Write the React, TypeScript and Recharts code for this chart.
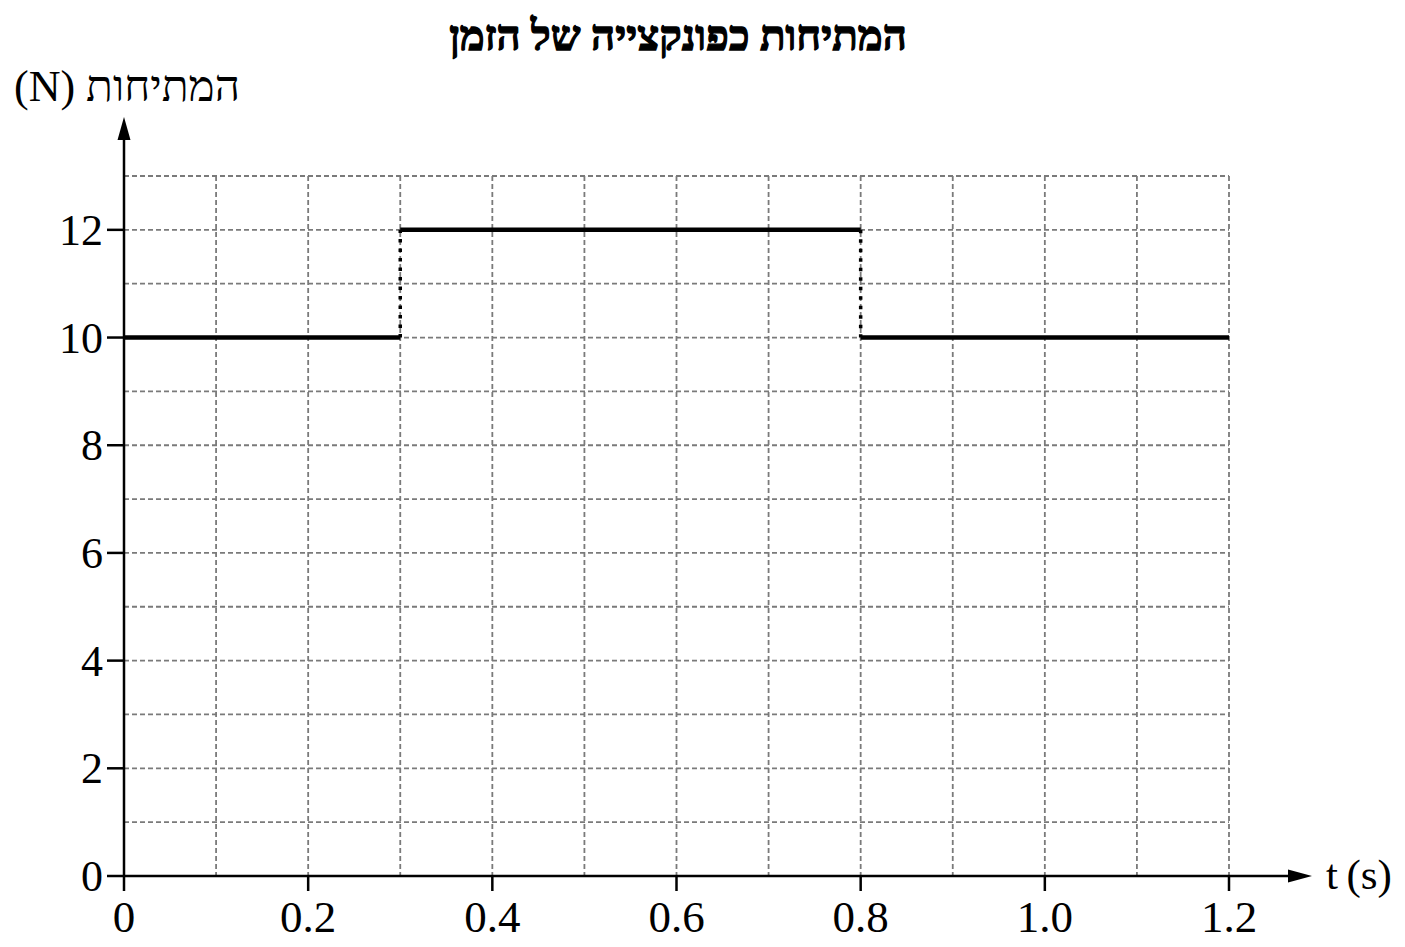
import React from "react";
import { ComposedChart, Line, XAxis, YAxis, CartesianGrid } from "recharts";

// ─── Data ───────────────────────────────────────────────────────────

const stepStart = [0, 0.3, 0.8];
const stepEnd = [0.3, 0.8, 1.2];
const tension = [10, 12, 10];

const xTicks = [0, 0.1, 0.2, 0.3, 0.4, 0.5, 0.6, 0.7, 0.8, 0.9, 1.0, 1.1, 1.2];
const yTicks = [0, 1, 2, 3, 4, 5, 6, 7, 8, 9, 10, 11, 12, 13];

const title = "המתיחות כפונקצייה של הזמן";
const yLabel = "(N) המתיחות";
const xLabel = "t\u2009(s)";

// ─── Layout ─────────────────────────────────────────────────────────

const W = 1405;
const H = 947;
const Y_AXIS_W = 60;
const X_AXIS_H = 60;
const MARGIN = { top: 176, right: 176, bottom: 71 - X_AXIS_H, left: 124 - Y_AXIS_W };
const FONT = "'Liberation Serif', 'Times New Roman', serif";

// solid levels, broken with nulls between steps
const levelData: { t: number; n: number | null }[] = [];
stepStart.forEach((s, i) => {
  levelData.push({ t: s, n: tension[i] });
  levelData.push({ t: stepEnd[i], n: tension[i] });
  levelData.push({ t: stepEnd[i], n: null });
});

// dotted jumps between levels
const jumpData: { t: number; n: number | null }[] = [];
for (let i = 1; i < stepStart.length; i++) {
  jumpData.push({ t: stepStart[i], n: tension[i - 1] });
  jumpData.push({ t: stepStart[i], n: tension[i] });
  jumpData.push({ t: stepStart[i], n: null });
}

// ─── Ticks ──────────────────────────────────────────────────────────

function renderXTick(props: any) {
  const { x, y, payload } = props;
  const v = payload.value as number;
  if (Math.round(v * 10) % 2 !== 0) return <g />;
  return (
    <g>
      <line x1={x} x2={x} y1={y} y2={y + 15} stroke="#000" strokeWidth={2.5} />
      <text x={x} y={y + 56} textAnchor="middle" fontSize={45} fontFamily={FONT} fill="#000">
        {v === 0 ? "0" : v.toFixed(1)}
      </text>
    </g>
  );
}

function renderYTick(props: any) {
  const { x, y, payload } = props;
  const v = payload.value as number;
  if (v % 2 !== 0) return <g />;
  return (
    <g>
      <line x1={x - 17} x2={x} y1={y} y2={y} stroke="#000" strokeWidth={2.5} />
      <text x={x - 21} y={y + 15} textAnchor="end" fontSize={44} fontFamily={FONT} fill="#000">
        {v}
      </text>
    </g>
  );
}

// ─── Chart ──────────────────────────────────────────────────────────

export default function App() {
  const left = 124;
  const bottom = H - 71;

  return (
    <div style={{ position: "absolute", left: 0, top: 0, width: W, height: H, background: "#fff" }}>
      <ComposedChart width={W} height={H} margin={MARGIN}>
        <CartesianGrid stroke="#7a7a7a" strokeDasharray="5 3" strokeWidth={1.8} />
        <XAxis
          dataKey="t"
          type="number"
          domain={[0, 1.2]}
          ticks={xTicks}
          interval={0}
          height={X_AXIS_H}
          tickSize={0}
          tickMargin={0}
          tickLine={false}
          axisLine={false}
          tick={renderXTick}
          allowDuplicatedCategory={false}
        />
        <YAxis
          type="number"
          domain={[0, 13]}
          ticks={yTicks}
          interval={0}
          width={Y_AXIS_W}
          tickSize={0}
          tickMargin={0}
          tickLine={false}
          axisLine={false}
          tick={renderYTick}
        />
        <Line
          data={jumpData}
          dataKey="n"
          type="linear"
          stroke="#000"
          strokeWidth={3.5}
          strokeDasharray="3.5 6"
          dot={false}
          activeDot={false}
          connectNulls={false}
          isAnimationActive={false}
        />
        <Line
          data={levelData}
          dataKey="n"
          type="linear"
          stroke="#000"
          strokeWidth={4.5}
          dot={false}
          activeDot={false}
          connectNulls={false}
          isAnimationActive={false}
        />
      </ComposedChart>

      {/* axes with arrows, title and axis names */}
      <svg
        width={W}
        height={H}
        style={{ position: "absolute", left: 0, top: 0, pointerEvents: "none" }}
      >
        <line x1={left} x2={left} y1={bottom + 1} y2={135} stroke="#000" strokeWidth={2.5} />
        <polygon points={`${left},117 ${left - 6.5},140 ${left + 6.5},140`} fill="#000" />
        <line x1={left - 1} x2={1292} y1={bottom} y2={bottom} stroke="#000" strokeWidth={2.5} />
        <polygon points={`1312,${bottom} 1288,${bottom - 6.5} 1288,${bottom + 6.5}`} fill="#000" />

        <text
          x={678}
          y={50}
          textAnchor="middle"
          fontSize={42}
          fontWeight="bold"
          fontFamily={FONT}
          fill="#000"
          stroke="#000"
          strokeWidth={1.3}
        >
          {title}
        </text>
        <text x={14} y={101} textAnchor="start" fontSize={44} fontFamily={FONT} fill="#000">
          {yLabel}
        </text>
        <text x={1326} y={889} textAnchor="start" fontSize={43} fontFamily={FONT} fill="#000">
          {xLabel}
        </text>
      </svg>
    </div>
  );
}
